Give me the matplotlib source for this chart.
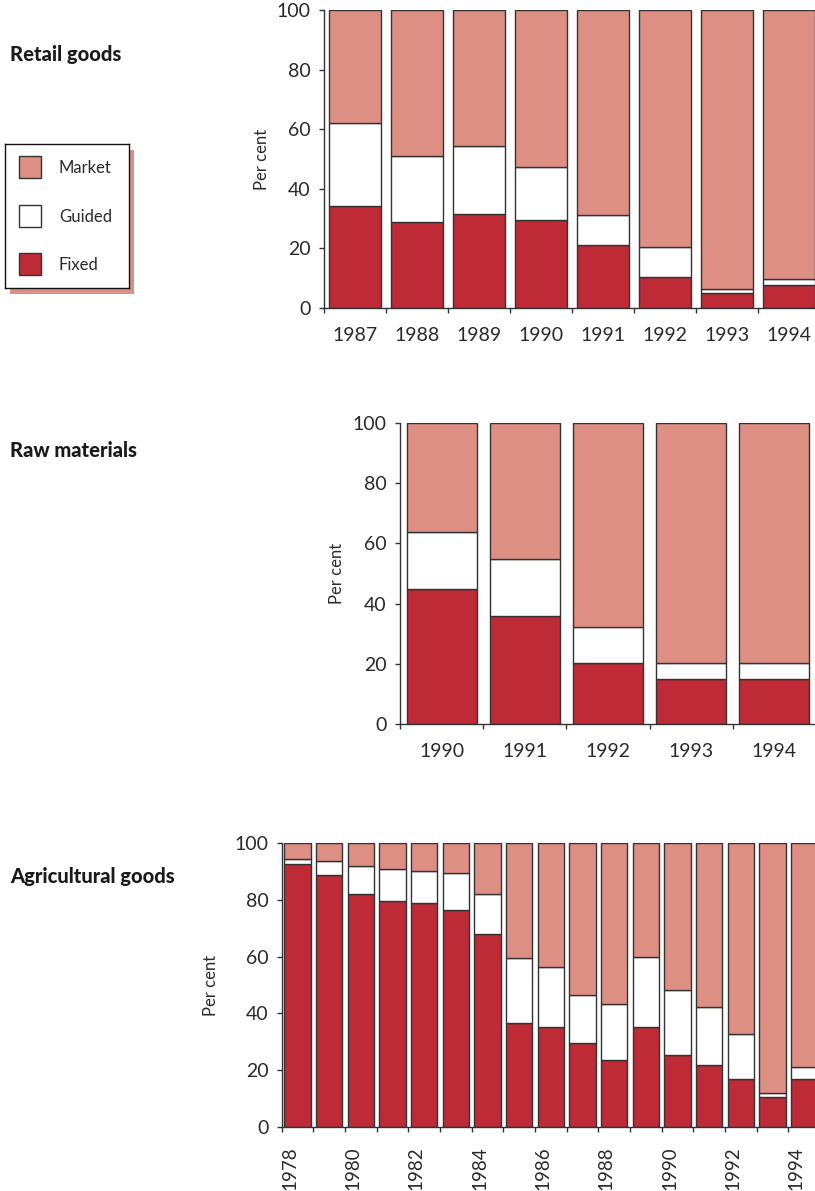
import matplotlib.pyplot as plt
import numpy as np
from matplotlib.patches import Rectangle

plt.rcParams["font.family"] = ["Lato", "DejaVu Sans"]

W, H = 815, 1191

MARKET_COLOR = "#DE8F84"
GUIDED_COLOR = "#FFFFFF"
FIXED_COLOR = "#BE2A36"
EDGE = "#333333"
TEXT = "#2a2a2a"

# Price formation shares, per cent
retail_years = [1987, 1988, 1989, 1990, 1991, 1992, 1993, 1994]
retail_fixed = [34.1, 28.7, 31.7, 29.6, 21.1, 10.5, 5.2, 7.7]
retail_guided = [28.1, 22.2, 22.8, 17.7, 10.2, 9.9, 1.1, 1.9]
retail_market = [37.8, 49.1, 45.5, 52.7, 68.7, 79.6, 93.7, 90.4]

raw_years = [1990, 1991, 1992, 1993, 1994]
raw_fixed = [45.0, 36.0, 20.2, 15.0, 15.0]
raw_guided = [18.9, 18.8, 12.0, 5.2, 5.2]
raw_market = [36.1, 45.2, 67.8, 79.8, 79.8]

agri_years = list(range(1978, 1995))
agri_fixed = [92.7, 88.6, 82.2, 79.5, 78.8, 76.3, 68.1, 36.7, 35.1,
              29.5, 23.7, 35.1, 25.2, 21.9, 17.0, 10.4, 17.0]
agri_guided = [1.7, 4.9, 9.7, 11.5, 11.3, 13.0, 13.9, 22.9, 21.4,
               17.1, 19.6, 24.6, 23.0, 20.5, 15.6, 1.6, 4.0]
agri_market = [5.6, 6.5, 8.1, 9.0, 9.9, 10.7, 18.0, 40.4, 43.5,
               53.4, 56.7, 40.3, 51.8, 57.6, 67.4, 88.0, 79.0]

legend_labels = ["Market", "Guided", "Fixed"]
legend_colors = [MARKET_COLOR, GUIDED_COLOR, FIXED_COLOR]


def px_rect(x0, y0, x1, y1):
    """Pixel box (top-left origin) -> figure fraction rect."""
    return [x0 / W, 1 - y1 / H, (x1 - x0) / W, (y1 - y0) / H]


def draw_panel(fig, box, years, fixed, guided, market, ylabel_px, rotated=False):
    ax = fig.add_axes(px_rect(*box))
    n = len(years)
    x = np.arange(n) + 0.5
    kw = dict(width=0.84, edgecolor=EDGE, linewidth=1.0)
    ax.bar(x, fixed, color=FIXED_COLOR, **kw)
    ax.bar(x, guided, bottom=fixed, color=GUIDED_COLOR, **kw)
    ax.bar(x, market, bottom=np.add(fixed, guided), color=MARKET_COLOR, **kw)

    ax.set_xlim(0, n)
    ax.set_ylim(0, 100)
    ax.set_yticks(range(0, 101, 20))

    # boundary ticks on the major locator, year labels on the minor one
    ax.set_xticks(np.arange(n))
    ax.set_xticklabels([])
    if rotated:
        pos, labels = x[::2] - 0.25, years[::2]
    else:
        pos, labels = x, years
    ax.set_xticks(pos, minor=True)
    ax.set_xticklabels([str(y) for y in labels], minor=True,
                       rotation=90 if rotated else 0)
    ax.tick_params(axis="x", which="minor", length=0,
                   pad=14 if rotated else 14,
                   labelsize=13.5 if rotated else 14, labelcolor=TEXT)
    ax.tick_params(axis="x", which="major", length=3.5, width=1, color=EDGE)
    ax.tick_params(axis="y", length=3.5, width=1, color=EDGE, pad=6,
                   labelsize=14, labelcolor=TEXT)

    for side in ("top", "right"):
        ax.spines[side].set_visible(False)
    for side in ("left", "bottom"):
        ax.spines[side].set_color(EDGE)
        ax.spines[side].set_linewidth(1)

    ax.set_ylabel("Per cent", fontsize=12, color=TEXT)
    ax.yaxis.set_label_coords((ylabel_px - box[0]) / (box[2] - box[0]), 0.5)
    return ax


def draw_legend(fig):
    # salmon drop shadow behind the framed key
    shadow = Rectangle((10 / W, 1 - 294 / H), 124 / W, 144 / H,
                       transform=fig.transFigure, facecolor=MARKET_COLOR,
                       edgecolor="none", zorder=-1)
    fig.patches.append(shadow)

    ax = fig.add_axes(px_rect(5, 144, 129, 288), zorder=2)
    ax.set_facecolor("white")
    ax.set_xlim(0, 124)
    ax.set_ylim(144, 0)
    ax.set_xticks([])
    ax.set_yticks([])
    for s in ax.spines.values():
        s.set_color("#111111")
        s.set_linewidth(1)
    for i, (lab, col) in enumerate(zip(legend_labels, legend_colors)):
        top = 12 + i * 48.5
        ax.add_patch(Rectangle((14, top), 22, 22, facecolor=col,
                               edgecolor=EDGE, linewidth=1))
        ax.text(54, top + 12, lab, fontsize=12, va="center", ha="left",
                color=TEXT)


fig = plt.figure(figsize=(W / 100, H / 100), dpi=100)

draw_panel(fig, (324, 10, 820, 308), retail_years, retail_fixed,
           retail_guided, retail_market, ylabel_px=270)
draw_panel(fig, (400, 423, 816, 724), raw_years, raw_fixed,
           raw_guided, raw_market, ylabel_px=345)
draw_panel(fig, (281.7, 843, 820, 1127), agri_years, agri_fixed,
           agri_guided, agri_market, ylabel_px=219, rotated=True)

draw_legend(fig)

title_kw = dict(fontsize=14.5, fontweight="black", va="baseline",
                ha="left", color="#1a1a1a")
fig.text(10 / W, 1 - 61 / H, "Retail goods", **title_kw)
fig.text(10 / W, 1 - 457 / H, "Raw materials", **title_kw)
fig.text(10 / W, 1 - 883 / H, "Agricultural goods", **title_kw)

fig.savefig("out.png", dpi=100)
